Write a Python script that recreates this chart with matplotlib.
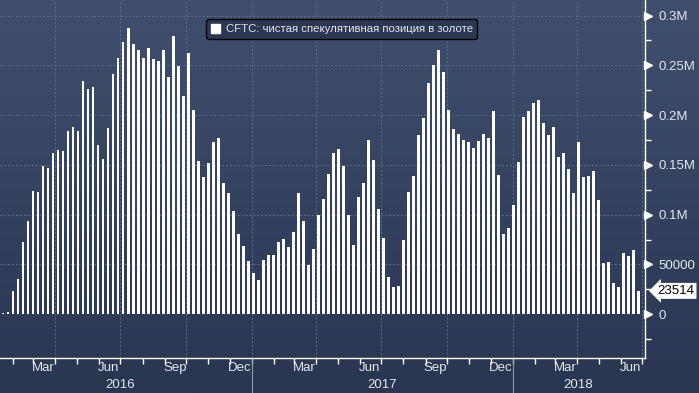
import numpy as np
import pandas as pd
import matplotlib
matplotlib.use("Agg")
import matplotlib.pyplot as plt
import matplotlib.dates as mdates
import matplotlib.transforms as mtransforms
from matplotlib.patches import Patch
from matplotlib.ticker import FixedLocator, FuncFormatter

plt.rcParams['font.family'] = ['Liberation Sans Narrow', 'Liberation Sans', 'DejaVu Sans']

# ---- data ----
series_label = "CFTC: чистая спекулятивная позиция в золоте"
last_date = "2018-06-26"
net_position = [
    1000, 2000, 23400, 35800, 72900, 93600, 123700, 122700, 149100, 146800,
    162200, 164900, 163900, 183900, 187900, 183900, 234100, 226100, 228100, 169900,
    155800, 187300, 241100, 257200, 273200, 287300, 271900, 265200, 257200, 266900,
    256200, 254200, 265200, 238100, 279200, 249100, 219000, 262200, 205000, 153800,
    138100, 152200, 172900, 176900, 131700, 121700, 103700, 80600, 68600, 53500,
    41500, 34400, 54500, 59500, 59500, 72600, 75600, 67500, 82600, 121700,
    93600, 49500, 65500, 99700, 115700, 140800, 161800, 165900, 148800, 99700,
    69600, 117700, 131800, 174900, 154800, 105700, 76600, 37500, 27400, 28400,
    74600, 122700, 139100, 179900, 197000, 232400, 250100, 265200, 243100, 205000,
    185900, 180900, 174900, 172900, 166900, 173900, 180900, 176900, 204000, 139800,
    80600, 86600, 109700, 152800, 198000, 204000, 212000, 215000, 191900, 179900,
    187900, 157800, 161800, 145800, 121700, 172900, 137800, 138800, 143800, 114700,
    51500, 52500, 31400, 27400, 61500, 58500, 64500, 23514,
]
last_value_label = "23514"
y_ticks = [0, 50000, 100000, 150000, 200000, 250000, 300000]
y_tick_labels = ["0", "50000", "0.1M", "0.15M", "0.2M", "0.25M", "0.3M"]
month_labels = ["Mar", "Jun", "Sep", "Dec"]
year_labels = ["2016", "2017", "2018"]

dates = pd.date_range(end=last_date, periods=len(net_position), freq="7D")

# ---- figure ----
W, H = 699, 393
fig = plt.figure(figsize=(W / 100, H / 100), dpi=100)

# background gradient
bg = fig.add_axes([0, 0, 1, 1], zorder=-10)
grad = np.linspace(0, 1, 256).reshape(-1, 1)
top = np.array([0x3f, 0x4f, 0x6d]) / 255
bot = np.array([0x29, 0x36, 0x52]) / 255
img = top[None, None, :] * (1 - grad[:, :, None]) + bot[None, None, :] * grad[:, :, None]
bg.imshow(img, aspect='auto', extent=[0, 1, 0, 1])
bg.axis('off')

ax = fig.add_axes([0, 35 / H, 645 / W, 358 / H])
ax.set_facecolor('none')

xn = mdates.date2num(dates)
ax.bar(xn, net_position, width=3.4, color='white', zorder=3)

ax.set_xlim(mdates.date2num(pd.Timestamp("2016-01-14 12:00")),
            mdates.date2num(pd.Timestamp("2018-07-05")))
ax.set_ylim(-43900, 315600)

# spines
for s in ['top', 'left']:
    ax.spines[s].set_visible(False)
for s in ['bottom', 'right']:
    ax.spines[s].set_color('white')
    ax.spines[s].set_linewidth(1.0)

# y axis (right)
ax.yaxis.tick_right()
ax.yaxis.set_major_locator(FixedLocator(y_ticks))
ax.set_yticklabels(y_tick_labels)
ax.yaxis.set_minor_locator(FixedLocator([25000 + 50000 * i for i in range(6)] + [-25000]))
ax.tick_params(axis='y', which='major', length=0, pad=10, labelsize=9.5, labelcolor='#e4e6ea')
ax.tick_params(axis='y', which='minor', length=4, width=1, color='white', direction='out')

trans_y = mtransforms.blended_transform_factory(ax.transAxes, ax.transData)
tri_trans = mtransforms.offset_copy(trans_y, fig=fig, x=3, y=0, units='dots')
ax.plot([1.0] * len(y_ticks), y_ticks, linestyle='none', marker='>', markersize=5.5,
        color='white', transform=tri_trans, clip_on=False, zorder=5)

# x axis ticks at month boundaries
month_starts = pd.date_range("2016-02-01", "2018-07-01", freq="MS")
ax.xaxis.set_major_locator(FixedLocator(mdates.date2num(month_starts)))
ax.xaxis.set_major_formatter(FuncFormatter(lambda v, p: ""))
ax.tick_params(axis='x', which='major', length=4, width=1, color='white', direction='out')

mid_months = [d + pd.Timedelta(days=14) for d in pd.date_range("2016-03-01", "2018-06-01", freq="MS")
              if d.strftime("%b") in month_labels]
ax.xaxis.set_minor_locator(FixedLocator(mdates.date2num(mid_months)))
ax.xaxis.set_minor_formatter(mdates.DateFormatter("%b"))
ax.tick_params(axis='x', which='minor', length=0, pad=3, labelsize=9.5, labelcolor='#e4e6ea')

# grid
quarter_starts = pd.date_range("2016-04-01", "2018-07-01", freq="QS-JAN")
for q in quarter_starts:
    ax.axvline(mdates.date2num(q), color='#5d6d89', lw=0.7, ls=(0, (2, 2)), zorder=1)
for yv in y_ticks[1:]:
    ax.axhline(yv, color='#5d6d89', lw=0.7, ls=(0, (2, 2)), zorder=1)

# year labels & separators
trans_x = mtransforms.blended_transform_factory(ax.transData, ax.transAxes)
year_pos = [pd.Timestamp("2016-07-01"), pd.Timestamp("2017-07-02"), pd.Timestamp("2018-04-03")]
for lab, pos in zip(year_labels, year_pos):
    ax.text(mdates.date2num(pos), -0.075, lab, transform=trans_x, ha='center', va='center',
            fontsize=9.5, color='#e4e6ea')
for sep in ["2017-01-01", "2018-01-01"]:
    ax.plot([mdates.date2num(pd.Timestamp(sep))] * 2, [0, -0.11], transform=trans_x,
            color='#8a96aa', lw=0.8, clip_on=False)

# last value tag
ax.annotate(last_value_label, xy=(1.0, net_position[-1]), xycoords=trans_y,
            xytext=(9, 0), textcoords='offset points', ha='left', va='center',
            fontsize=9.5, color='black',
            bbox=dict(boxstyle='larrow,pad=0.15', fc='white', ec='none'),
            annotation_clip=False, zorder=6)

# legend
leg = ax.legend(handles=[Patch(facecolor='white', edgecolor='white')], labels=[series_label],
                loc='upper center', bbox_to_anchor=(0.53, 0.962), fontsize=8.2,
                labelcolor='#e4e6ea', facecolor='#2c3853', edgecolor='black',
                framealpha=1, fancybox=True, handlelength=0.8, handleheight=0.8,
                borderpad=0.4, handletextpad=0.5)
leg.get_frame().set_linewidth(1.0)
leg.set_zorder(2)

fig.savefig("out.png", dpi=100)
